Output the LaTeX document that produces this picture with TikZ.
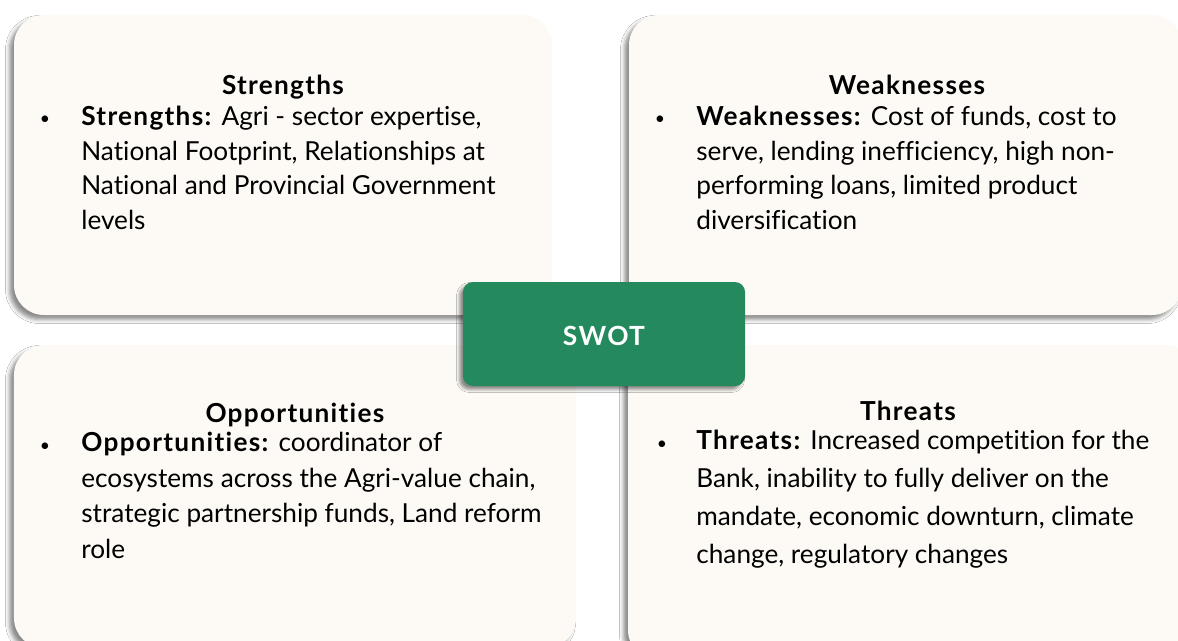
\documentclass[tikz,border=0pt]{standalone}
\usepackage{fontspec}
\setmainfont{Lato}[RawFeature={-liga}, BoldFeatures={LetterSpace=5}]
\usetikzlibrary{shadows.blur}
\definecolor{cream}{HTML}{FDFAF5}
\definecolor{swotgreen}{HTML}{248A5E}

\begin{document}
\begin{tikzpicture}[
quad/.style ={rectangle, fill=cream, rounded corners=0.6cm, inner sep=0pt,
  blur shadow={shadow xshift=-0.09cm, shadow yshift=-0.09cm, shadow blur radius=0.08cm, shadow opacity=45}},
hub/.style ={rectangle, fill=swotgreen, rounded corners=0.2cm, inner sep=0pt,
  minimum width=5.64cm, minimum height=2.08cm, text depth=0pt,
  blur shadow={shadow xshift=-0.07cm, shadow yshift=-0.07cm, shadow blur radius=0.06cm, shadow opacity=45}},
head/.style ={anchor=base, font=\fontsize{14.9}{19.7}\selectfont\bfseries},
txt/.style ={anchor=base west, align=left, inner sep=0pt, font=\fontsize{14.9}{19.7}\selectfont},
dot/.style ={anchor=base, inner sep=0pt, font=\fontsize{10}{10}\selectfont}
]
\useasboundingbox (0,0) rectangle (23.56,-12.82);
\fill[white] (0,0) rectangle (23.56,-12.82);
\draw (5.66,-3.30) node[quad, minimum width=10.76cm, minimum height=6cm] (S) {};
\draw (18.11,-3.30) node[quad, minimum width=11.06cm, minimum height=6cm] (W) {};
\draw (5.90,-9.93) node[quad, minimum width=11.24cm, minimum height=6.06cm] (O) {};
\draw (18.23,-10.05) node[quad, minimum width=11.34cm, minimum height=6.3cm] (T) {};
\draw (12.08,-6.68) node[hub] (H) {\raisebox{-2pt}{\fontsize{15}{16}\selectfont\bfseries\addfontfeature{LetterSpace=10}\color{white}SWOT}};
% titles
\draw (5.66,-1.90) node[head] (St) {Strengths};
\draw (18.14,-1.90) node[head] (Wt) {Weaknesses};
\draw (5.90,-8.45) node[head] (Ot) {Opportunities};
\draw (18.16,-8.40) node[head] (Tt) {Threats};
% bullets
\draw (0.90,-2.50) node[dot] (Sb) {•};
\draw (13.20,-2.50) node[dot] (Wb) {•};
\draw (0.90,-9.02) node[dot] (Ob) {•};
\draw (13.24,-8.98) node[dot] (Tb) {•};
% texts (anchored at the last line)
\draw (1.62,-4.585) node[txt] (Sx) {\textbf{Strengths:} Agri - sector expertise,\\National Footprint, Relationships at\\National and Provincial Government\\levels};
\draw (13.92,-4.585) node[txt] (Wx) {\textbf{Weaknesses:} Cost of funds, cost to\\serve, lending inefficiency, high non-\\performing loans, limited product\\diversification};
\draw (1.62,-11.16) node[txt, font=\fontsize{14.9}{20.2}\selectfont] (Ox) {\textbf{Opportunities:} coordinator of\\ecosystems across the Agri-value chain,\\strategic partnership funds, Land reform\\role};
\draw (13.92,-11.26) node[txt, font=\fontsize{14.9}{21.5}\selectfont] (Tx) {\textbf{Threats:} Increased competition for the\\Bank, inability to fully deliver on the\\mandate, economic downturn, climate\\change, regulatory changes};
\end{tikzpicture}
\end{document}
